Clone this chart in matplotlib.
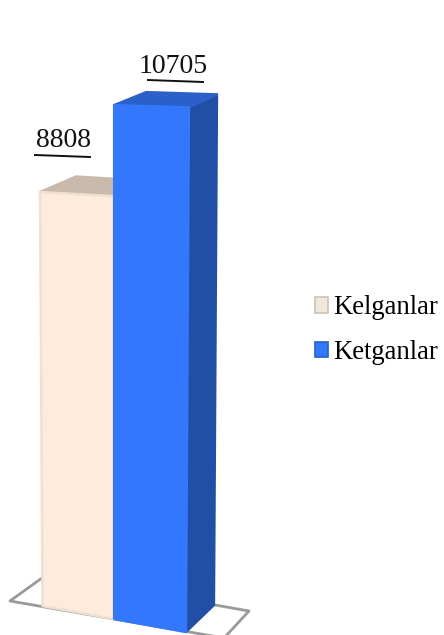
import matplotlib
matplotlib.use("Agg")
import matplotlib.pyplot as plt
from matplotlib.patches import Polygon, Patch

categories = ['Kelganlar', 'Ketganlar']
values = [8808, 10705]

front_colors = ['#FEEBDC', '#3377FD']
top_colors = ['#C9BAAB', '#2A60C8']
side_colors = ['#C9BAAB', '#224FA6']
edge_colors = ['#EFE0D2', '#3377FD']
legend_faces = ['#F1E7DD', '#3377FD']
legend_edges = ['#CFC2B4', '#2A5FC6']
floor_color = '#9A9A9A'

plt.rcParams['font.family'] = ['Liberation Serif', 'DejaVu Serif']

max_value = max(values)


def project(slot, value, depth=0.0):
    # oblique view of the chart, slot = position along the floor, depth = 0 front, 1 back
    frac = value / max_value
    x = 42.5 + 71.7 * slot + frac * (-3 + 3 * slot)
    y = 606 + 13 * slot - value * 0.047 * (1 + 0.0213 * slot)
    x += depth * (36 - 4 * slot)
    y += depth * (-27 + 14 * frac)
    return x, y


def draw_bar(ax, slot, value, i, zorder):
    a, b = slot, slot + 1
    front = [project(a, 0), project(b, 0), project(b, value), project(a, value)]
    top = [project(a, value), project(b, value), project(b, value, 1), project(a, value, 1)]
    side = [project(b, 0), project(b, 0, 1), project(b, value, 1), project(b, value)]
    for pts, col in [(side, side_colors[i]), (top, top_colors[i])]:
        ax.add_patch(Polygon(pts, closed=True, facecolor=col, edgecolor=col, lw=1.8,
                             joinstyle='round', zorder=zorder))
    ax.add_patch(Polygon(front, closed=True, facecolor=front_colors[i], edgecolor=edge_colors[i],
                         lw=1.8, joinstyle='round', zorder=zorder + 0.5))


fig = plt.figure(figsize=(4.44, 6.35), dpi=100)
ax = fig.add_axes([0, 0, 1, 1])
ax.set_xlim(0, 444)
ax.set_ylim(635, 0)
ax.axis('off')

# floor outline
floor_x = [42, 10, 224, 249, 215]
floor_y = [578, 601, 638, 611, 605]
ax.plot(floor_x, floor_y, color=floor_color, lw=2.0, zorder=1)

for i, v in enumerate(values):
    draw_bar(ax, i, v, i, zorder=2 + 2 * i)

# value labels with the line underneath
label_x = [63, 173]
label_y = [147, 73]
rule_x = [(35, 90), (148, 203)]
rule_y = [(155, 157), (80, 82)]
for i, v in enumerate(values):
    ax.text(label_x[i], label_y[i], str(v), ha='center', va='baseline', fontsize=20,
            color='#111111', zorder=10)
    ax.plot(rule_x[i], rule_y[i], color='#111111', lw=1.4, zorder=10)

handles = [Patch(facecolor=f, edgecolor=e, lw=1.2, label=n)
           for f, e, n in zip(legend_faces, legend_edges, categories)]
ax.legend(handles=handles, loc='center left', bbox_to_anchor=(315, 330),
          bbox_transform=ax.transData, frameon=False, fontsize=19.2, labelspacing=0.72,
          handlelength=0.5, handleheight=0.5, handletextpad=0.18, borderpad=0, borderaxespad=0)

fig.savefig('out.png', dpi=100)
